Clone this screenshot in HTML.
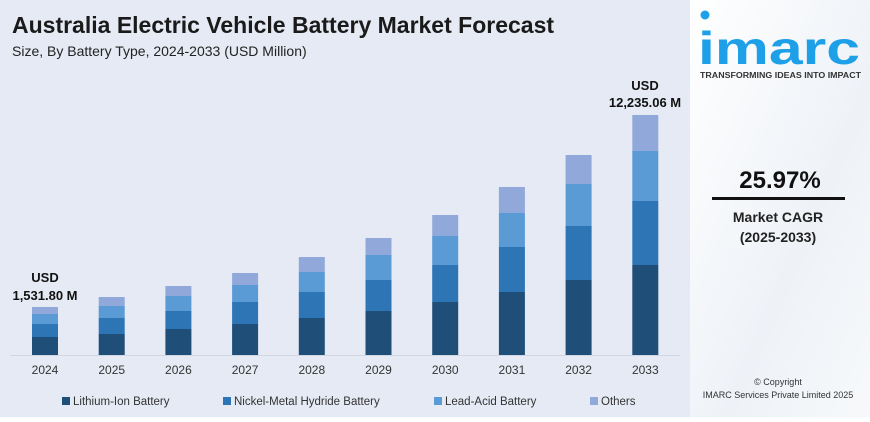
<!DOCTYPE html>
<html><head><meta charset="utf-8"><style>
body{margin:0;width:870px;height:417px;overflow:hidden;font-family:"Liberation Sans",sans-serif;background:#fff}
</style></head><body>
<svg width="870" height="417" xmlns="http://www.w3.org/2000/svg" font-family="Liberation Sans, sans-serif">
<defs><linearGradient id="g" x1="0" y1="0" x2="1" y2="1"><stop offset="0" stop-color="#ffffff"/><stop offset="0.6" stop-color="#eef2f7"/><stop offset="1" stop-color="#f7f9fb"/></linearGradient></defs>
<rect x="0" y="0" width="690" height="417" fill="#e5eaf4"/>
<rect x="690" y="0" width="180" height="417" fill="url(#g)"/>
<text x="12" y="33" font-size="23" font-weight="bold" fill="#1a1a1a">Australia Electric Vehicle Battery Market Forecast</text>
<text x="12" y="56" font-size="14" fill="#222">Size, By Battery Type, 2024-2033 (USD Million)</text>
<line x1="10" y1="355.5" x2="680" y2="355.5" stroke="#d0d6e2"/>
<g>
<rect x="32" y="307" width="26" height="7" fill="#91a9da"/><rect x="32" y="314" width="26" height="10" fill="#5b9bd5"/><rect x="32" y="324" width="26" height="13" fill="#2e75b6"/><rect x="32" y="337" width="26" height="18" fill="#1f4e79"/>
<rect x="98.7" y="297" width="26" height="9" fill="#91a9da"/><rect x="98.7" y="306" width="26" height="12" fill="#5b9bd5"/><rect x="98.7" y="318" width="26" height="16" fill="#2e75b6"/><rect x="98.7" y="334" width="26" height="21" fill="#1f4e79"/>
<rect x="165.4" y="286" width="26" height="10" fill="#91a9da"/><rect x="165.4" y="296" width="26" height="15" fill="#5b9bd5"/><rect x="165.4" y="311" width="26" height="18" fill="#2e75b6"/><rect x="165.4" y="329" width="26" height="26" fill="#1f4e79"/>
<rect x="232.1" y="273" width="26" height="12" fill="#91a9da"/><rect x="232.1" y="285" width="26" height="17" fill="#5b9bd5"/><rect x="232.1" y="302" width="26" height="22" fill="#2e75b6"/><rect x="232.1" y="324" width="26" height="31" fill="#1f4e79"/>
<rect x="298.8" y="257" width="26" height="15" fill="#91a9da"/><rect x="298.8" y="272" width="26" height="20" fill="#5b9bd5"/><rect x="298.8" y="292" width="26" height="26" fill="#2e75b6"/><rect x="298.8" y="318" width="26" height="37" fill="#1f4e79"/>
<rect x="365.5" y="238" width="26" height="17" fill="#91a9da"/><rect x="365.5" y="255" width="26" height="25" fill="#5b9bd5"/><rect x="365.5" y="280" width="26" height="31" fill="#2e75b6"/><rect x="365.5" y="311" width="26" height="44" fill="#1f4e79"/>
<rect x="432.2" y="215" width="26" height="21" fill="#91a9da"/><rect x="432.2" y="236" width="26" height="29" fill="#5b9bd5"/><rect x="432.2" y="265" width="26" height="37" fill="#2e75b6"/><rect x="432.2" y="302" width="26" height="53" fill="#1f4e79"/>
<rect x="498.9" y="187" width="26" height="26" fill="#91a9da"/><rect x="498.9" y="213" width="26" height="34" fill="#5b9bd5"/><rect x="498.9" y="247" width="26" height="45" fill="#2e75b6"/><rect x="498.9" y="292" width="26" height="63" fill="#1f4e79"/>
<rect x="565.6" y="155" width="26" height="29" fill="#91a9da"/><rect x="565.6" y="184" width="26" height="42" fill="#5b9bd5"/><rect x="565.6" y="226" width="26" height="54" fill="#2e75b6"/><rect x="565.6" y="280" width="26" height="75" fill="#1f4e79"/>
<rect x="632.3" y="115" width="26" height="36" fill="#91a9da"/><rect x="632.3" y="151" width="26" height="50" fill="#5b9bd5"/><rect x="632.3" y="201" width="26" height="64" fill="#2e75b6"/><rect x="632.3" y="265" width="26" height="90" fill="#1f4e79"/>
</g>
<g font-size="12" text-anchor="middle" fill="#333">
<text x="45" y="374">2024</text><text x="111.7" y="374">2025</text><text x="178.4" y="374">2026</text><text x="245.1" y="374">2027</text><text x="311.8" y="374">2028</text><text x="378.5" y="374">2029</text><text x="445.2" y="374">2030</text><text x="511.9" y="374">2031</text><text x="578.6" y="374">2032</text><text x="645.3" y="374">2033</text>
</g>
<text x="45" y="282" font-size="13" font-weight="bold" text-anchor="middle" fill="#111">USD</text>
<text x="45" y="300" font-size="13" font-weight="bold" text-anchor="middle" fill="#111">1,531.80 M</text>
<text x="645" y="90" font-size="13" font-weight="bold" text-anchor="middle" fill="#111">USD</text>
<text x="645" y="107" font-size="13" font-weight="bold" text-anchor="middle" fill="#111">12,235.06 M</text>
<rect x="62" y="397" width="8" height="8" fill="#1f4e79"/><text x="73" y="405" font-size="11.5" fill="#333">Lithium-Ion Battery</text>
<rect x="223" y="397" width="8" height="8" fill="#2e75b6"/><text x="234" y="405" font-size="11.5" fill="#333">Nickel-Metal Hydride Battery</text>
<rect x="434" y="397" width="8" height="8" fill="#5b9bd5"/><text x="445" y="405" font-size="11.5" fill="#333">Lead-Acid Battery</text>
<rect x="590" y="397" width="8" height="8" fill="#91a9da"/><text x="601" y="405" font-size="11.5" fill="#333">Others</text>
<circle cx="705" cy="15" r="4.5" fill="#1ea0e8"/>
<text x="698" y="64" font-size="46" font-weight="bold" fill="#1ea0e8" textLength="162" lengthAdjust="spacingAndGlyphs">imarc</text>
<text x="700" y="78" font-size="8" font-weight="bold" fill="#333" textLength="161" lengthAdjust="spacingAndGlyphs">TRANSFORMING IDEAS INTO IMPACT</text>
<text x="780" y="188" font-size="24" font-weight="bold" text-anchor="middle" fill="#111">25.97%</text>
<rect x="712" y="197" width="133" height="3" fill="#111"/>
<text x="778" y="222" font-size="14" font-weight="bold" text-anchor="middle" fill="#222">Market CAGR</text>
<text x="778" y="242" font-size="14" font-weight="bold" text-anchor="middle" fill="#222">(2025-2033)</text>
<text x="778" y="385" font-size="9" text-anchor="middle" fill="#333">© Copyright</text>
<text x="778" y="398" font-size="9" text-anchor="middle" fill="#333">IMARC Services Private Limited 2025</text>
</svg>
</body></html>
